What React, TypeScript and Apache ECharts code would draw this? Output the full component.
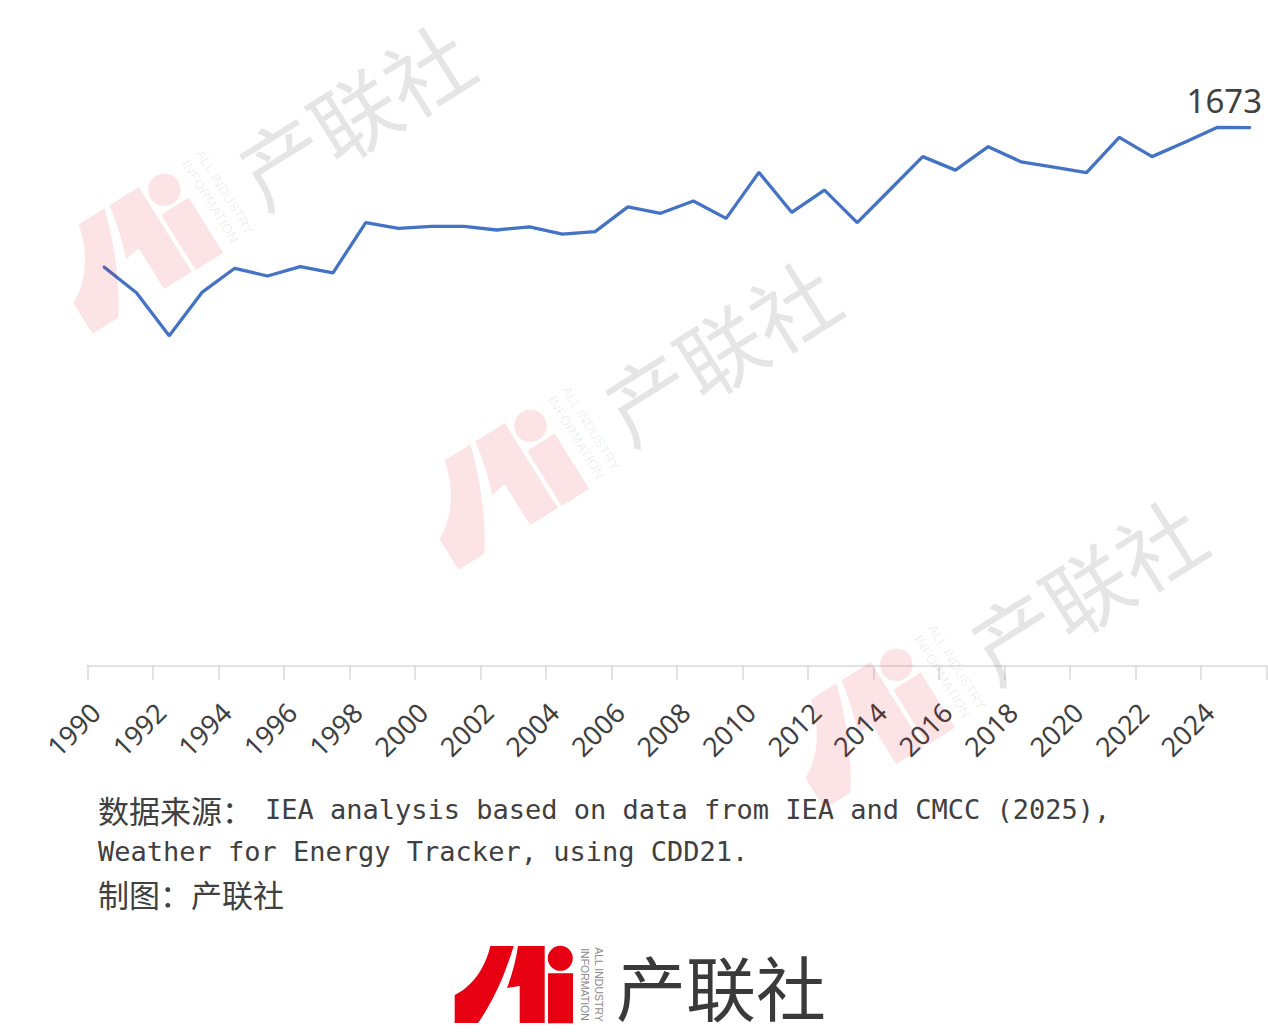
import React, { useEffect, useRef } from "react";
import * as echarts from "echarts";

// ---- data ----
const years = [
  "1990", "1991", "1992", "1993", "1994", "1995", "1996", "1997", "1998", "1999",
  "2000", "2001", "2002", "2003", "2004", "2005", "2006", "2007", "2008", "2009",
  "2010", "2011", "2012", "2013", "2014", "2015", "2016", "2017", "2018", "2019",
  "2020", "2021", "2022", "2023", "2024", "2025",
];
const cdd = [
  1241, 1160, 1026, 1161, 1236, 1212, 1241, 1222, 1378, 1360,
  1366, 1366, 1355, 1365, 1342, 1350, 1427, 1407, 1445, 1391,
  1534, 1410, 1479, 1378, 1480, 1583, 1541, 1614, 1567, 1550,
  1533, 1643, 1583, 1628, 1674, 1673,
];
const sourceLine1Cn = "数据来源：";
const sourceLine1En = "IEA analysis based on data from IEA and CMCC (2025),";
const sourceLine2 = "Weather for Energy Tracker, using CDD21.";
const creditLine = "制图：产联社";
const brandName = "产联社";
const brandSub1 = "ALL INDUSTRY";
const brandSub2 = "INFORMATION";

// ---- logo shape ----
const LOGO_D =
  "M42.3,6 L65.7,6 C57,35 45,62 30,83 L6.7,83 L6.7,55 C22,48 37,30 42.3,6 Z " +
  "M70,6 L96.7,6 L96.7,83 L71.7,83 L71.7,46 L59,48 C64,35 68,20 70,6 Z " +
  "M100,33.3 L125,33.3 L125,83.3 L100,83.3 Z " +
  "M124.8,18.3 A12.5,12.5 0 1 1 99.8,18.3 A12.5,12.5 0 1 1 124.8,18.3 Z";
try {
  echarts.graphic.registerShape("aiLogo", echarts.graphic.extendPath(LOGO_D, {}) as any);
} catch (e) {
  // already registered
}

function brand(
  x: number,
  y: number,
  rot: number,
  scale: number,
  logoFill: string,
  nameFill: string,
  subFill: string,
  nameSize: number,
  z: number
) {
  const sub = (text: string, sx: number) => ({
    type: "text",
    x: sx,
    y: 44.5,
    rotation: -Math.PI / 2,
    z,
    style: {
      text,
      fill: subFill,
      fontSize: 10.5,
      fontFamily: "Liberation Sans, Arial, sans-serif",
      align: "center",
      verticalAlign: "middle",
      textAlign: "center",
      textVerticalAlign: "middle",
    },
  });
  return {
    type: "group",
    x,
    y,
    rotation: rot,
    scaleX: scale,
    scaleY: scale,
    z,
    silent: true,
    children: [
      { type: "aiLogo", x: 0, y: 0, z, style: { fill: logoFill } },
      sub(brandSub1, 150.7),
      sub(brandSub2, 137.3),
      {
        type: "text",
        x: 168,
        y: 45,
        z,
        style: {
          text: brandName,
          fill: nameFill,
          fontSize: nameSize,
          fontFamily: "Noto Sans CJK SC, sans-serif",
          align: "left",
          verticalAlign: "middle",
          textAlign: "left",
          textVerticalAlign: "middle",
        },
      },
    ],
  };
}

function txt(x: number, y: number, text: string, fontSize: number, fontFamily: string) {
  return {
    type: "text",
    x,
    y,
    z: 50,
    style: {
      text,
      fill: "#404040",
      fontSize,
      fontFamily,
      align: "left",
      verticalAlign: "middle",
      textAlign: "left",
      textVerticalAlign: "middle",
    },
  };
}

export default function App() {
  const ref = useRef<HTMLDivElement>(null);

  useEffect(() => {
    if (!ref.current) return;
    const chart = echarts.init(ref.current, undefined, { renderer: "svg" });
    const last = cdd.length - 1;
    const seriesData = cdd.map((v, i) =>
      i === last
        ? {
            value: v,
            label: {
              show: true,
              position: "top",
              distance: 10,
              offset: [-26, 0],
              formatter: "{c}",
              fontSize: 33,
              color: "#404040",
              fontFamily: "Liberation Sans Narrow, Noto Sans, sans-serif",
            },
          }
        : v
    );
    const rot = (32 * Math.PI) / 180;
    const wmLogo = "rgba(230,0,18,0.11)";
    const wmText = "rgba(0,0,0,0.1)";
    const wmSub = "rgba(0,0,0,0.08)";
    chart.setOption({
      animation: false,
      backgroundColor: "#ffffff",
      grid: { left: 87.3, right: 1.3, top: 86.8, bottom: 369, containLabel: false },
      xAxis: {
        type: "category",
        data: years,
        boundaryGap: true,
        axisLine: { show: true, lineStyle: { color: "#d9d9d9", width: 1.5 } },
        axisTick: { show: true, interval: 1, length: 14, lineStyle: { color: "#d9d9d9", width: 1.5 } },
        axisLabel: {
          interval: 1,
          rotate: 45,
          margin: 33,
          padding: [0, 12, 0, 0],
          fontSize: 27,
          color: "#404040",
          fontFamily: "Noto Sans, sans-serif",
        },
        splitLine: { show: false },
      },
      yAxis: {
        type: "value",
        min: 0,
        max: 1800,
        show: false,
        splitLine: { show: false },
      },
      series: [
        {
          type: "line",
          data: seriesData,
          symbol: "circle",
          symbolSize: 2,
          showSymbol: true,
          smooth: false,
          lineStyle: { color: "#4472C4", width: 3.3 },
          itemStyle: { color: "#4472C4" },
          z: 2,
        },
      ],
      graphic: {
        elements: [
          txt(98, 809, sourceLine1Cn, 31, "Noto Sans CJK SC, sans-serif"),
          txt(265, 809, sourceLine1En, 27, "DejaVu Sans Mono, monospace"),
          txt(98, 851, sourceLine2, 27, "DejaVu Sans Mono, monospace"),
          txt(98, 893, creditLine, 31, "Noto Sans CJK SC, sans-serif"),
          brand(448, 940, 0, 1, "#e60012", "#3a3a3a", "#8a8a8a", 70, 60),
          brand(28, 247, rot, 1.3, wmLogo, wmText, wmSub, 66, 100),
          brand(394, 483, rot, 1.3, wmLogo, wmText, wmSub, 66, 100),
          brand(760, 722, rot, 1.3, wmLogo, wmText, wmSub, 66, 100),
        ],
      },
    });
    return () => chart.dispose();
  }, []);

  return (
    <div
      ref={ref}
      style={{ position: "absolute", left: 0, top: 0, width: 1268, height: 1035, background: "#fff" }}
    />
  );
}
